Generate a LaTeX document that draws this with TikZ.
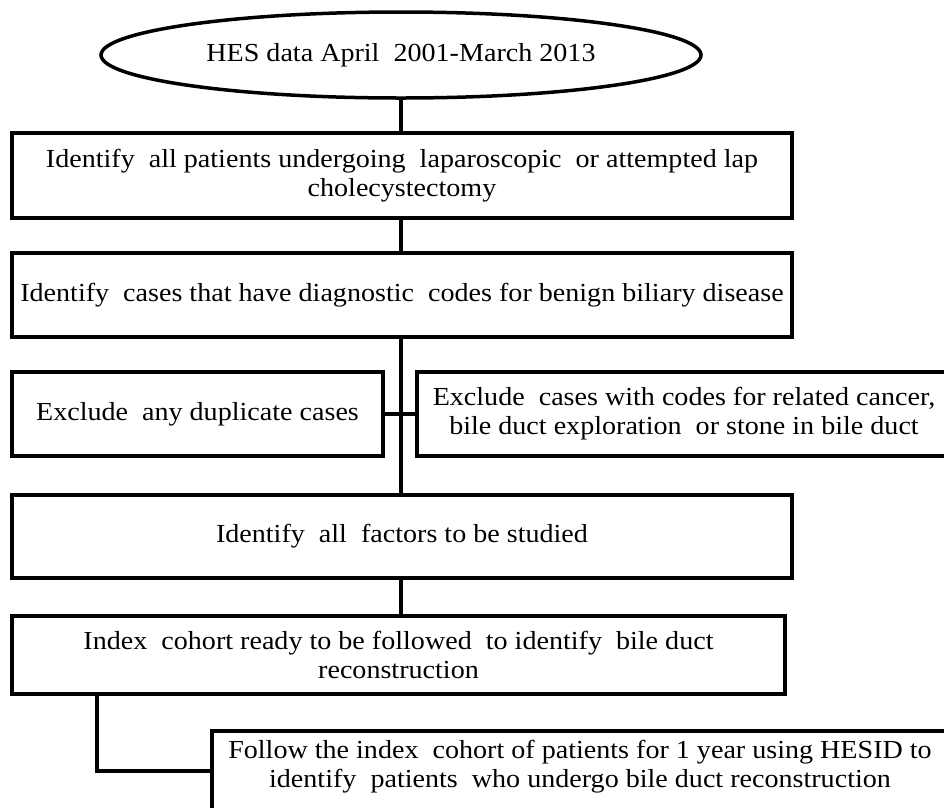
\documentclass[tikz,border=0pt]{standalone}
\usepackage{fontspec}
\setmainfont[FakeStretch=1.08]{Liberation Serif}
\usetikzlibrary{shapes.geometric}
\newcommand{\dsp}{\ \ }
\begin{document}
\begin{tikzpicture}[x=1pt,y=-1pt,
  every node/.style={font=\fontsize{26}{29}\selectfont, inner sep=0pt, align=center},
  box/.style={draw, line width=3.5pt, rectangle},
  oval/.style={draw, line width=3.5pt, ellipse},
  link/.style={line width=3.5pt}]
\useasboundingbox (0,0) rectangle (944,807);
\begin{scope}
\clip (0,0) rectangle (944,807);
\node[oval, minimum width=600pt, minimum height=86pt] (hes) at (401,55) {HES data April\dsp2001-March 2013};
\node[box, minimum width=780pt, minimum height=85pt] (pat) at (402,175.5) {Identify\dsp all patients undergoing\dsp laparoscopic\dsp or attempted lap\\cholecystectomy};
\node[box, minimum width=780pt, minimum height=84pt] (ben) at (402,295) {Identify\dsp cases that have diagnostic\dsp codes for benign biliary disease};
\node[box, minimum width=371pt, minimum height=84pt] (dup) at (197.5,414) {Exclude\dsp any duplicate cases};
\node[box, minimum width=534pt, minimum height=84pt] (exc) at (684,414) {Exclude\dsp cases with codes for related cancer,\\bile duct exploration\dsp or stone in bile duct};
\node[box, minimum width=780pt, minimum height=83pt] (fac) at (402,536.5) {Identify\dsp all\dsp factors to be studied};
\node[box, minimum width=773pt, minimum height=78pt] (idx) at (398.5,655) {Index\dsp cohort ready to be followed\dsp to identify\dsp bile duct\\reconstruction};
\node[box, minimum width=740pt, minimum height=100pt, anchor=north west] (fol) at (210,729) {};
\node at (580,767) {Follow the index\dsp cohort of patients for 1 year using HESID to\\identify\dsp patients\dsp who undergo bile duct reconstruction};
\coordinate (k1) at (97,771);
\draw[link] (hes.south) -- (hes.south |- pat.north);
\draw[link] (401,0 |- pat.south) -- (401,0 |- ben.north);
\draw[link] (401,0 |- ben.south) -- (401,0 |- fac.north);
\draw[link] (dup.east) -- (exc.west);
\draw[link] (401,0 |- fac.south) -- (401,0 |- idx.north);
\draw[link] (97,0 |- idx.south) -- (k1) -- (k1 -| fol.west);
\end{scope}
\end{tikzpicture}
\end{document}
